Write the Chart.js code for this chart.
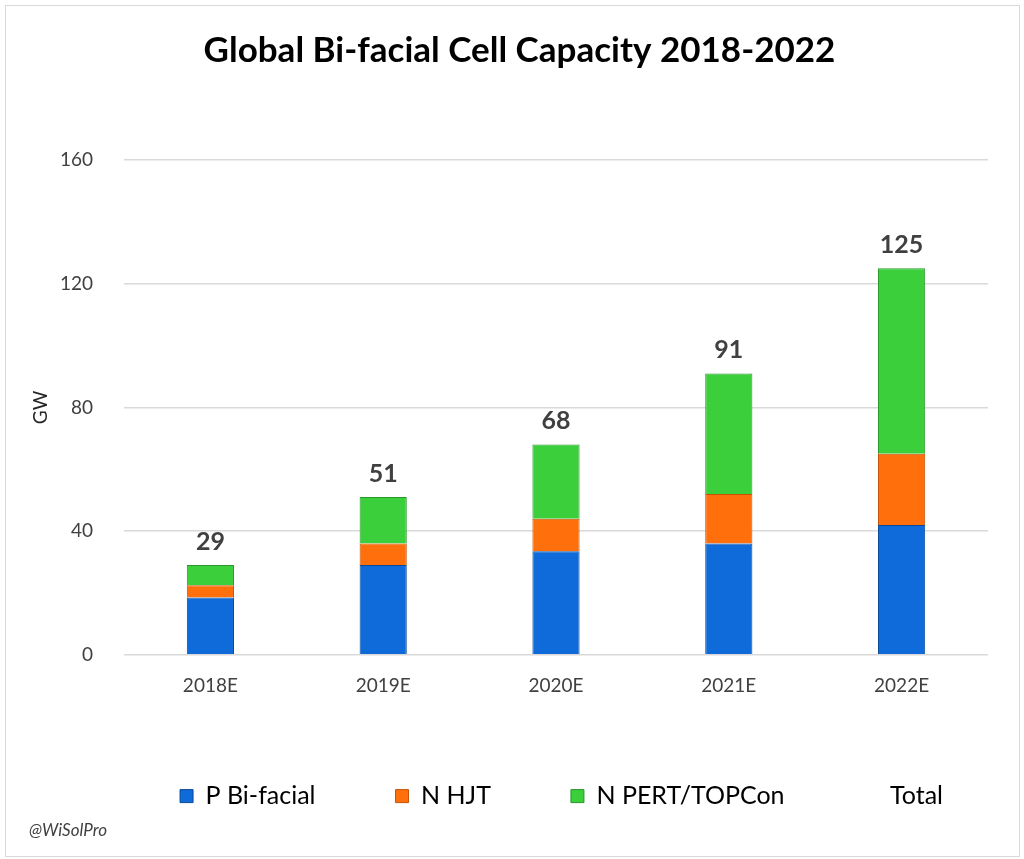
<!DOCTYPE html>
<html>
<head>
<meta charset="utf-8">
<script src="https://cdn.jsdelivr.net/npm/chart.js@4.4.0/dist/chart.umd.min.js"></script>
<style>
  html, body { margin: 0; padding: 0; background: #fff; }
  #wrap { position: relative; width: 1024px; height: 859px; }
  #frame { position: absolute; left: 5px; top: 5px; right: 4px; bottom: 2px; border: 1px solid #d9d9d9; pointer-events: none; }
</style>
</head>
<body>
<div id="wrap">
  <canvas id="barChart" width="1024" height="859"></canvas>
  <div id="frame"></div>
</div>
<script>
const years = ['2018E', '2019E', '2020E', '2021E', '2022E'];
const pBifacial = [18.5, 29, 33.5, 36, 42];
const nHjt = [4, 7, 10.5, 16, 23];
const nPertTopcon = [6.5, 15, 24, 39, 60];
const totals = [29, 51, 68, 91, 125];
const yTicks = [0, 40, 80, 120, 160];

const font = 'Lato, "Liberation Sans", sans-serif';

// total labels above each stack
const totalLabels = {
    id: 'totalLabels',
    afterDatasetsDraw(chart) {
        const meta = chart.getDatasetMeta(3);
        const ctx = chart.ctx;
        ctx.save();
        ctx.font = 'bold 25px ' + font;
        ctx.fillStyle = '#404040';
        ctx.textAlign = 'center';
        ctx.textBaseline = 'bottom';
        meta.data.forEach(function (pt, i) {
            ctx.fillText(totals[i], pt.x, pt.y - 11);
        });
        ctx.restore();
    }
};

// nudge title / legend / footer boxes to where the original has them
const boxShift = {
    id: 'boxShift',
    afterLayout(chart) {
        chart.legend.left += 53;
        chart.legend.right += 53;
        chart.legend.top -= 6;
        chart.legend.bottom -= 6;
        chart.titleBlock.left += 11;
        chart.titleBlock.right += 11;
        const sub = chart.boxes.find(b => b.options && b.options.text === '@WiSolPro');
        if (sub) {
            sub.top -= 8;
            sub.bottom -= 8;
        }
    }
};

const ctx = document.getElementById('barChart').getContext('2d');
const myChart = new Chart(ctx, {
    data: {
        labels: years,
        datasets: [{
            type: 'bar',
            label: 'P Bi-facial',
            data: pBifacial,
            backgroundColor: '#0f6bd9',
            borderColor: '#0a4a98',
            borderWidth: 1,
            stack: 'cells'
        }, {
            type: 'bar',
            label: 'N HJT',
            data: nHjt,
            backgroundColor: '#ff700c',
            borderColor: '#c65206',
            borderWidth: 1,
            stack: 'cells'
        }, {
            type: 'bar',
            label: 'N PERT/TOPCon',
            data: nPertTopcon,
            backgroundColor: '#3bcf3b',
            borderColor: '#279827',
            borderWidth: 1,
            stack: 'cells'
        }, {
            type: 'line',
            label: 'Total',
            data: totals,
            stack: 'total',
            showLine: false,
            pointRadius: 0,
            backgroundColor: 'rgba(0,0,0,0)',
            borderColor: 'rgba(0,0,0,0)'
        }]
    },
    options: {
        responsive: false,
        animation: false,
        layout: { padding: { left: 29, right: 36, top: 0, bottom: 6 } },
        datasets: {
            bar: { barPercentage: 1, categoryPercentage: 0.273 }
        },
        scales: {
            x: {
                stacked: true,
                grid: { display: false },
                border: { display: false },
                ticks: { color: '#404040', font: { family: font, size: 19 }, padding: 12 }
            },
            y: {
                stacked: true,
                min: 0,
                max: 160,
                afterBuildTicks(axis) {
                    axis.ticks = yTicks.map(v => ({ value: v }));
                },
                afterFit(axis) {
                    axis.width = 95;
                },
                grid: { color: '#d9d9d9', lineWidth: 1.5, drawTicks: false },
                border: { display: false },
                ticks: { color: '#404040', font: { family: font, size: 19 }, padding: 31 },
                title: { display: true, text: 'GW', color: '#262626', font: { family: font, size: 19 }, padding: 0 }
            }
        },
        plugins: {
            title: {
                display: true,
                text: 'Global Bi-facial Cell Capacity 2018-2022',
                color: '#000',
                font: { family: font, size: 35, weight: 'bold' },
                padding: { top: 30, bottom: 88 }
            },
            subtitle: {
                display: true,
                text: '@WiSolPro',
                position: 'bottom',
                align: 'start',
                color: '#404040',
                font: { family: font, size: 17, style: 'italic' },
                padding: { top: 4, bottom: 4 }
            },
            legend: {
                position: 'bottom',
                labels: {
                    color: '#000',
                    font: { family: font, size: 25 },
                    boxWidth: 13,
                    boxHeight: 13,
                    padding: 80
                }
            },
            tooltip: { enabled: false }
        }
    },
    plugins: [totalLabels, boxShift]
});
</script>
</body>
</html>
